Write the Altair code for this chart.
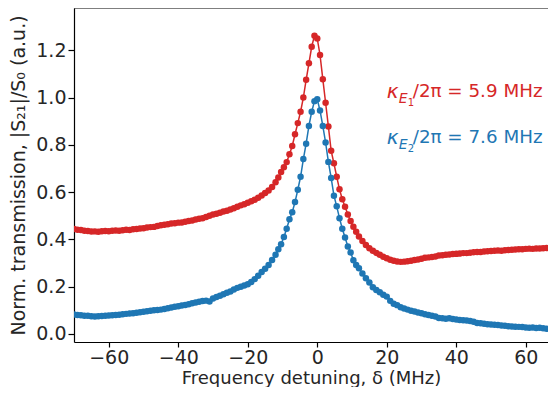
import altair as alt
import pandas as pd

# ---- data ----
x_left = [-70, -69, -68, -67, -66, -65, -64, -63, -62, -61, -60, -59, -58, -57, -56,
          -55, -54, -53, -52, -51, -50, -49, -48, -47, -46, -45, -44, -43, -42, -41,
          -40, -39, -38, -37, -36, -35, -34, -33, -32, -31, -30, -29, -28, -27, -26,
          -25, -24, -23, -22, -21, -20, -19, -18, -17, -16, -15, -14, -13, -12]
x_peak = [-11.2, -10.4, -9.6, -8.8, -8.0, -7.2, -6.4, -5.6, -4.8, -4.0, -3.2, -2.4, -1.6, -0.8,
          0.0, 0.8, 1.6, 2.4, 3.2, 4.0, 4.8, 5.6, 6.4, 7.2, 8.0, 8.8, 9.6, 10.4, 11.2]
x_right = [12, 13, 14, 15, 16, 17, 18, 19, 20, 21, 22, 23, 24, 25, 26, 27, 28, 29, 30,
           31, 32, 33, 34, 35, 36, 37, 38, 39, 40, 41, 42, 43, 44, 45, 46, 47, 48, 49, 50,
           51, 52, 53, 54, 55, 56, 57, 58, 59, 60, 61, 62, 63, 64, 65, 66, 67, 68, 69, 70]

red_left = [.444, .441, .440, .437, .436, .433, .434, .432, .435, .436, .435, .437, .438, .437, .439,
            .441, .440, .443, .444, .446, .447, .450, .452, .453, .457, .460, .462, .464, .467, .468,
            .471, .472, .475, .478, .480, .484, .487, .490, .495, .500, .505, .509, .513, .518, .521,
            .527, .532, .538, .544, .549, .555, .561, .568, .576, .586, .596, .607, .622, .642]
red_peak = [.662, .685, .705, .727, .760, .795, .845, .892, .940, 1.000, 1.075, 1.145, 1.215, 1.262,
            1.250, 1.180, 1.078, .978, .878, .775, .722, .665, .612, .570, .538, .505, .478, .454, .432]
red_right = [.412, .393, .376, .363, .352, .343, .335, .327, .320, .314, .310, .307, .305, .306,
             .308, .310, .313, .315, .318, .322, .324, .326, .328, .332, .333, .335, .336, .338,
             .339, .340, .342, .342, .344, .346, .347, .347, .349, .350, .351, .352, .353, .352,
             .354, .355, .356, .357, .358, .358, .360, .361, .360, .362, .362, .363, .364, .365,
             .366, .367, .368]

blue_left = [.082, .080, .079, .077, .077, .075, .074, .075, .076, .077, .078, .079, .080, .081, .083,
             .085, .087, .088, .090, .092, .094, .096, .098, .100, .101, .103, .106, .109, .112, .115,
             .117, .120, .123, .126, .130, .133, .136, .139, .141, .137, .150, .156, .162, .168, .174,
             .180, .188, .195, .200, .205, .210, .220, .232, .246, .262, .276, .292, .313, .335]
blue_peak = [.358, .380, .410, .445, .485, .515, .558, .610, .665, .740, .805, .880, .940, .985,
             .993, .945, .880, .810, .728, .660, .585, .540, .490, .445, .408, .370, .345, .312, .292]
blue_right = [.278, .256, .236, .218, .198, .186, .176, .166, .158, .140, .128, .122, .113, .108,
              .103, .098, .095, .091, .088, .083, .080, .077, .074, .068, .066, .064, .066, .063,
              .061, .059, .058, .057, .055, .052, .046, .045, .043, .041, .040, .039, .038, .036,
              .035, .033, .032, .031, .030, .029, .027, .026, .027, .025, .026, .024, .022, .021,
              .019, .020, .018]

series_names = ["E1", "E2"]
series_colors = ["#d62728", "#1f77b4"]
label_values = ["5.9", "7.6"]
label_y = [1.023, 0.829]
label_x = 20.0
sub_digits = ["1", "2"]

x_ticks = [-60, -40, -20, 0, 20, 40, 60]
y_ticks = [0.0, 0.2, 0.4, 0.6, 0.8, 1.0, 1.2]

# ---- build tables ----
xs = x_left + x_peak + x_right
red = red_left + red_peak + red_right
blue = blue_left + blue_peak + blue_right
assert len(xs) == len(red) == len(blue)

df = pd.DataFrame({
    "x": xs + xs,
    "y": red + blue,
    "series": ["E1"] * len(xs) + ["E2"] * len(xs),
})

ann = pd.DataFrame({
    "x": [label_x, label_x],
    "y": label_y,
    "series": series_names,
    "kappa": ["κ", "κ"],
    "subE": ["E", "E"],
    "subN": sub_digits,
    "rest": [f"/2π = {v} MHz" for v in label_values],
})

FONT = "DejaVu Sans"
W, H = 474, 334

xscale = alt.Scale(domain=[-70, 66.4], nice=False, zero=False)
yscale = alt.Scale(domain=[-0.034, 1.379], nice=False, zero=False)
cscale = alt.Scale(domain=series_names, range=series_colors)

X = alt.X("x:Q", scale=xscale,
          axis=alt.Axis(values=x_ticks, title="Frequency detuning, δ (MHz)", grid=False,
                        format="d", tickSize=5, labelPadding=1, titleFontSize=18,
                        titleY=41, titleBaseline="alphabetic"))
Y = alt.Y("y:Q", scale=yscale,
          axis=alt.Axis(values=y_ticks, title="Norm. transmission, |S₂₁|/S₀ (a.u.)",
                        grid=False, format=".1f", tickSize=6, labelPadding=2,
                        titlePadding=7))
C = alt.Color("series:N", scale=cscale, legend=None)

base = alt.Chart(df)
points = base.mark_circle(size=42, opacity=1, clip=True).encode(x=X, y=Y, color=C)
lines = base.mark_line(strokeWidth=1.5, clip=True).encode(x=X, y=Y, color=C)

abase = alt.Chart(ann).encode(x=alt.X("x:Q", scale=xscale), y=alt.Y("y:Q", scale=yscale), color=C)
t_kappa = abase.mark_text(font=FONT, fontSize=20, fontStyle="italic", align="left",
                          baseline="middle").encode(text="kappa:N")
t_subE = abase.mark_text(font=FONT, fontSize=14, fontStyle="italic", align="left",
                         baseline="middle", dx=12, dy=7).encode(text="subE:N")
t_subN = abase.mark_text(font=FONT, fontSize=10, align="left", baseline="middle",
                         dx=21, dy=11).encode(text="subN:N")
t_rest = abase.mark_text(font=FONT, fontSize=18.3, align="left", baseline="middle",
                         dx=26).encode(text="rest:N")

top = alt.Chart(pd.DataFrame({"k": [0]})).mark_rule(color="black", strokeWidth=1.2).encode(
    x=alt.value(0), x2=alt.value(W), y=alt.value(0))

chart = alt.layer(points, lines, t_kappa, t_subE, t_subN, t_rest, top).properties(
    width=W, height=H,
    autosize=alt.AutoSizeParams(type="none"),
    padding={"left": 66, "top": 0, "right": 0, "bottom": 45},
).configure_view(stroke=None).configure_axis(
    labelFont=FONT, titleFont=FONT, labelFontSize=19, titleFontSize=19,
    labelColor="#262626", titleColor="#262626", titleFontWeight="normal",
    domainColor="black", tickColor="black", tickWidth=1.2, domainWidth=1.2,
)

chart.save("out.html", embed_options={"renderer": "svg", "actions": False})
